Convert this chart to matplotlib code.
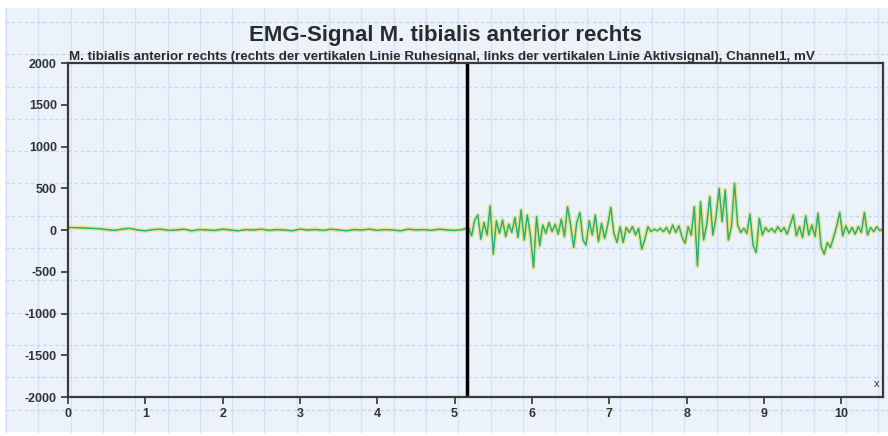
# EMG signal, M. tibialis anterior (rest left of the line, activity right)
import numpy as np
import matplotlib
import matplotlib.pyplot as plt

matplotlib.use("Agg")

plt.rcParams["font.family"] = ["Liberation Sans Narrow", "Liberation Sans", "DejaVu Sans"]
plt.rcParams["axes.unicode_minus"] = False

title = "EMG-Signal M. tibialis anterior rechts"
subtitle = ("M. tibialis anterior rechts (rechts der vertikalen Linie Ruhesignal, "
            "links der vertikalen Linie Aktivsignal), Channel1, mV")

# resting part, sampled every 0.1 s from 0
rest_start = 0.0
rest_step = 0.1
rest_mv = [30, 28, 25, 20, 15, 5, -5, 10, 20, 0,
           -10, 5, 10, -5, 0, 10, -10, 5, 0, -5,
           10, 0, -10, 5, 0, 10, -5, 5, 0, -10,
           10, 0, 5, -5, 10, 0, -10, 5, 0, 10,
           -5, 5, 0, -10, 10, 0, 5, -5, 10, 0,
           -5, 5]

# active part, sampled every 0.04 s from 5.18
act_start = 5.18
act_step = 0.04
act_mv = [30, -70, 120, 180, -110, 90, -60, 290, -290, 110,
          -40, 120, -80, 70, -30, 150, -90, 240, -120, 180,
          -60, -450, 160, -190, 60, -40, 90, -20, 70, -50,
          130, -80, 280, 60, -210, 90, 210, -120, -180, 110,
          -60, 180, -140, 80, -100, 60, 270, -40, -150, 40,
          -150, 30, -30, 40, -60, 20, -230, -110, 40, -20,
          10, -10, 20, -20, 30, -40, 60, -30, 50, -80,
          -160, 40, -60, 280, -430, 340, -120, 60, 400, -60,
          150, 500, 100, 480, -120, 40, 560, 60, -30, 20,
          -40, 190, -180, -270, 140, -60, 30, -20, 20, -30,
          40, -20, 30, -50, 60, 180, -70, 40, -90, 170,
          -60, 60, -80, 200, -200, -290, -150, -210, -90, 40,
          210, -70, 50, -40, 30, -50, 40, -30, 210, -60,
          30, -20, 40, -10, 20]

marker_t = 5.16
x_ticks = [0, 1, 2, 3, 4, 5, 6, 7, 8, 9, 10]
y_ticks = [-2000, -1500, -1000, -500, 0, 500, 1000, 1500, 2000]

t_rest = rest_start + rest_step * np.arange(len(rest_mv))
t_act = act_start + act_step * np.arange(len(act_mv))
t = np.concatenate([t_rest, t_act])
mv = np.concatenate([rest_mv, act_mv])

fig = plt.figure(figsize=(8.88, 4.36), dpi=100, facecolor="white")

# graph paper behind everything
bg = fig.add_axes([0, 0, 1, 1], zorder=0)
bg.set_xlim(0, 888)
bg.set_ylim(436, 0)
bg.add_patch(plt.Rectangle((5, 8), 883, 424, facecolor="#ebf2fa", edgecolor="none"))
for gx in np.arange(6, 888, 32.3):
    bg.plot([gx, gx], [8, 432], color="#d0e2f3", lw=0.9)
for gy in np.arange(22, 432, 32.3):
    bg.plot([5, 888], [gy, gy], color="#c3d9ef", lw=0.9, ls=(0, (3, 2)))
bg.axis("off")

ax = fig.add_axes([68 / 888, 39 / 436, 815 / 888, 334 / 436], zorder=1)
ax.patch.set_alpha(0)
ax.plot(t, mv, color="#e3e07c", lw=3.0, alpha=0.85, solid_joinstyle="round")
ax.plot(t, mv, color="#35b46a", lw=1.0)
ax.plot(t, mv, color="#1aa7a0", lw=0.5, alpha=0.7)
ax.axvline(marker_t, color="black", lw=2.5)

ax.set_xlim(0, 10.54)
ax.set_ylim(-2000, 2000)
ax.set_xticks(x_ticks)
ax.set_yticks(y_ticks)
ax.tick_params(direction="out", length=5, width=1.2, colors="#333333",
               labelsize=9, pad=3)
for lab in ax.get_xticklabels() + ax.get_yticklabels():
    lab.set_fontweight("bold")
for s in ax.spines.values():
    s.set_color("#3a3a3a")
    s.set_linewidth(1.6)

ax.text(0.996, 0.025, "x", transform=ax.transAxes, fontsize=8,
        ha="right", va="bottom", color="#333333")

fig.text(445 / 888, 1 - 36 / 436, title, ha="center", va="center",
         fontsize=16, fontweight="bold", color="#2b2b2b")
fig.text(69 / 888, 1 - 63 / 436, subtitle, ha="left", va="bottom",
         fontsize=9.6, fontweight="bold", color="#2b2b2b")

fig.savefig("out.png", dpi=100)
